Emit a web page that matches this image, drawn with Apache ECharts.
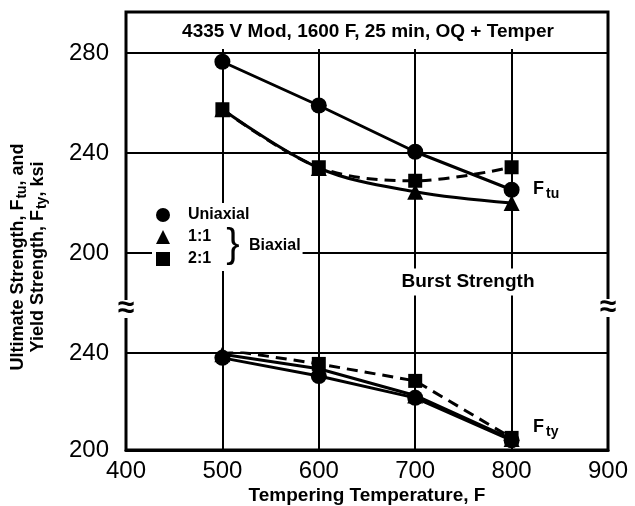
<!DOCTYPE html>
<html>
<head>
<meta charset="utf-8">
<script src="https://cdn.jsdelivr.net/npm/echarts@6/dist/echarts.min.js"></script>
<style>
  html, body { margin: 0; padding: 0; background: #fff; }
  #chart { width: 635px; height: 506px; }
</style>
</head>
<body>
<div id="chart"></div>
<script>
// Tempering temperature, F
const temps = [500, 600, 700, 800];
// Ultimate strength Ftu, ksi
const ftuUniaxial = [276.5, 259, 240.5, 225.3];
const ftuBiaxial11 = [257.5, 234, 224.5, 220];
const ftuBiaxial21 = [257.5, 234.3, 228.9, 234.3];
// Yield strength Fty, ksi
const ftyUniaxial = [238, 230.5, 221.5, 204];
const ftyBiaxial11 = [239.5, 233.5, 222.5, 204.5];
const ftyBiaxial21 = [241.5, 235.5, 228.5, 205];
// Axis ranges
const xRange = [400, 900];
const upperRange = [160, 280];   // 160 is the hidden break band
const lowerRange = [200, 240];

const FONT = 'Liberation Sans';
const BLACK = '#000';

const pairs = (ys) => temps.map((t, i) => [t, ys[i]]);

function makeSeries(name, ys, gridAxis, symbol, size, dashed, smooth, z) {
  return {
    type: 'line',
    name: name,
    xAxisIndex: gridAxis,
    yAxisIndex: gridAxis,
    data: pairs(ys),
    symbol: symbol,
    symbolSize: size,
    smooth: smooth,
    z: z,
    itemStyle: { color: BLACK },
    lineStyle: { color: BLACK, width: 3, type: dashed ? [11, 7] : 'solid' },
    emphasis: { disabled: true },
    silent: true,
    animation: false
  };
}

const gridLine = { show: true, lineStyle: { color: BLACK, width: 2 } };
const numLabel = { color: BLACK, fontFamily: FONT, fontSize: 24 };
const boldText = (size) => ({ fontFamily: FONT, fontSize: size, fontWeight: 'bold', fill: BLACK });

const chart = echarts.init(document.getElementById('chart'), null, { renderer: 'canvas' });

chart.setOption({
  backgroundColor: '#fff',
  animation: false,
  grid: [
    { left: 126, right: 27, top: 53, height: 300 },   // ultimate strength
    { left: 126, right: 27, top: 353, height: 97 },   // yield strength
    { left: 126, right: 27, top: 12, height: 41 }     // heading band
  ],
  xAxis: [
    {
      gridIndex: 0, type: 'value', min: xRange[0], max: xRange[1], interval: 100,
      position: 'top',
      axisLine: { show: true, lineStyle: { color: BLACK, width: 2 } },
      axisTick: { show: true, length: 4, lineStyle: { color: BLACK, width: 2 } },
      axisLabel: { show: false },
      splitLine: gridLine
    },
    {
      gridIndex: 1, type: 'value', min: xRange[0], max: xRange[1], interval: 100,
      position: 'bottom',
      axisLine: { show: true, lineStyle: { color: BLACK, width: 3 } },
      axisTick: { show: false },
      axisLabel: Object.assign({ margin: 9 }, numLabel),
      splitLine: gridLine,
      name: 'Tempering Temperature, F',
      nameLocation: 'middle',
      nameGap: 36,
      nameTextStyle: { color: BLACK, fontFamily: FONT, fontSize: 19, fontWeight: 'bold' }
    },
    {
      gridIndex: 2, type: 'value', min: xRange[0], max: xRange[1], interval: 100,
      position: 'top',
      axisLine: { show: false },
      axisTick: { show: true, inside: true, length: 5, lineStyle: { color: BLACK, width: 2 } },
      axisLabel: { show: false },
      splitLine: { show: false }
    }
  ],
  yAxis: [
    {
      gridIndex: 0, type: 'value', min: upperRange[0], max: upperRange[1], interval: 40,
      axisLine: { show: false }, axisTick: { show: false },
      axisLabel: Object.assign({ margin: 17, formatter: (v) => (v === upperRange[0] ? '' : String(v)) }, numLabel),
      splitLine: gridLine
    },
    {
      gridIndex: 1, type: 'value', min: lowerRange[0], max: lowerRange[1], interval: 40,
      axisLine: { show: false }, axisTick: { show: false },
      axisLabel: Object.assign({ margin: 17 }, numLabel),
      splitLine: gridLine
    },
    { gridIndex: 2, type: 'value', min: 0, max: 1, show: false }
  ],
  legend: {
    selectedMode: false,
    orient: 'vertical',
    left: 152,
    top: 203,
    padding: [4, 10, 4, 4],
    backgroundColor: '#fff',
    itemWidth: 14,
    itemHeight: 14,
    itemGap: 6,
    textStyle: { color: BLACK, fontFamily: FONT, fontSize: 16, fontWeight: 'bold', padding: [0, 0, 0, 13] },
    data: [
      { name: 'Uniaxial', icon: 'circle' },
      { name: '1:1', icon: 'triangle' },
      { name: '2:1', icon: 'rect' }
    ]
  },
  series: [
    makeSeries('1:1', ftuBiaxial11, 0, 'triangle', 16, false, 0.35, 3),
    makeSeries('2:1', ftuBiaxial21, 0, 'rect', 14, true, 0.35, 4),
    makeSeries('Uniaxial', ftuUniaxial, 0, 'circle', 16, false, false, 5),
    makeSeries('1:1', ftyBiaxial11, 1, 'triangle', 16, false, false, 3),
    makeSeries('2:1', ftyBiaxial21, 1, 'rect', 14, true, false, 4),
    makeSeries('Uniaxial', ftyUniaxial, 1, 'circle', 16, false, false, 5)
  ],
  graphic: [
    // outer frame
    {
      type: 'rect', z: 20, silent: true,
      shape: { x: 126, y: 12, width: 482, height: 438 },
      style: { fill: 'none', stroke: BLACK, lineWidth: 3 }
    },
    // heading
    {
      type: 'text', z: 20, silent: true, x: 368, y: 32,
      style: Object.assign(boldText(19), {
        text: '4335 V Mod, 1600 F, 25 min, OQ + Temper',
        textAlign: 'center', textVerticalAlign: 'middle'
      })
    },
    // bracket grouping the biaxial ratios
    {
      type: 'text', z: 20, silent: true, x: 233, y: 246,
      style: {
        text: '}', fontFamily: FONT, fontSize: 40, fill: BLACK,
        textAlign: 'center', textVerticalAlign: 'middle'
      }
    },
    {
      type: 'text', z: 20, silent: true, x: 247, y: 246,
      style: Object.assign(boldText(16), {
        text: 'Biaxial',
        textAlign: 'left', textVerticalAlign: 'middle', backgroundColor: '#fff', padding: [1, 2]
      })
    },
    {
      type: 'text', z: 20, silent: true, x: 468, y: 282,
      style: Object.assign(boldText(19), {
        text: 'Burst Strength',
        textAlign: 'center', textVerticalAlign: 'middle', backgroundColor: '#fff', padding: [4, 3]
      })
    },
    // curve labels
    {
      type: 'text', z: 20, silent: true, x: 533, y: 189,
      style: Object.assign(boldText(18), {
        text: 'F{s|tu}', textAlign: 'left', textVerticalAlign: 'middle',
        rich: { s: Object.assign(boldText(14), { padding: [10, 0, 0, 2] }) }
      })
    },
    {
      type: 'text', z: 20, silent: true, x: 533, y: 427,
      style: Object.assign(boldText(18), {
        text: 'F{s|ty}', textAlign: 'left', textVerticalAlign: 'middle',
        rich: { s: Object.assign(boldText(14), { padding: [10, 0, 0, 2] }) }
      })
    },
    // axis break marks
    {
      type: 'text', z: 25, silent: true, x: 126, y: 309,
      style: Object.assign(boldText(30), {
        text: '\u2248', textAlign: 'center', textVerticalAlign: 'middle',
        backgroundColor: '#fff', lineHeight: 18
      })
    },
    {
      type: 'text', z: 25, silent: true, x: 608, y: 308,
      style: Object.assign(boldText(30), {
        text: '\u2248', textAlign: 'center', textVerticalAlign: 'middle',
        backgroundColor: '#fff', lineHeight: 18
      })
    },
    // y axis title
    {
      type: 'text', z: 20, silent: true, x: 18, y: 257, rotation: Math.PI / 2,
      style: Object.assign(boldText(18), {
        text: 'Ultimate Strength, F{s|tu}, and',
        textAlign: 'center', textVerticalAlign: 'middle',
        rich: { s: Object.assign(boldText(14), { padding: [9, 0, 0, 1] }) }
      })
    },
    {
      type: 'text', z: 20, silent: true, x: 38, y: 257, rotation: Math.PI / 2,
      style: Object.assign(boldText(18), {
        text: 'Yield Strength, F{s|ty}, ksi',
        textAlign: 'center', textVerticalAlign: 'middle',
        rich: { s: Object.assign(boldText(14), { padding: [9, 0, 0, 1] }) }
      })
    }
  ]
});
</script>
</body>
</html>
